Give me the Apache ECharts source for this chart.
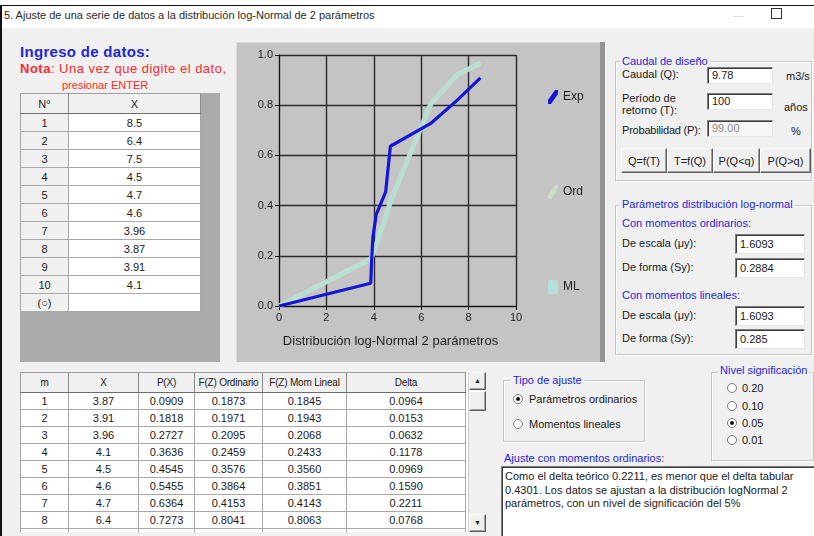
<!DOCTYPE html>
<html lang="es">
<head>
<meta charset="utf-8">
<title>Ajuste log-Normal 2 parámetros</title>
<script src="https://cdn.jsdelivr.net/npm/echarts/dist/echarts.min.js"></script>
<style>
  html, body { margin:0; padding:0; width:814px; height:536px; overflow:hidden; background:#fff;
    font-family:"Liberation Sans", Arial, sans-serif; font-size:11px; color:#1a1a1a; }
  .a { position:absolute; white-space:nowrap; line-height:13px; }
  .blue { color:#2525d8; }
  .red { color:#ff2b2b; }
  .form { position:absolute; left:2px; top:28px; width:812px; height:508px; background:#f0f0f0; }
  .tb { position:absolute; background:#fff; box-sizing:border-box; border:1px solid;
        border-color:#7e7e7e #e6e6e6 #e6e6e6 #7e7e7e; box-shadow:inset 1px 1px 0 #3c3c3c;
        padding-left:4px; white-space:nowrap; }
  .btn { position:absolute; box-sizing:border-box; border:1px solid; border-color:#fff #5e5e5e #5e5e5e #fff;
         box-shadow:inset -1px -1px 0 #a0a0a0; background:#f0f0f0; text-align:center; line-height:24px; }
  .grp { position:absolute; box-sizing:border-box; border:1px solid #c6c6c6; box-shadow:inset 1px 1px 0 #fff, 1px 1px 0 #fff; }
  .grpt { position:absolute; background:#f0f0f0; padding:0 2px; white-space:nowrap; line-height:13px; }
  table.g { position:absolute; border-collapse:collapse; table-layout:fixed; background:#fff; }
  table.g td { border:1px solid #a8a8a8; text-align:center; padding:0; overflow:hidden; white-space:nowrap; }
  table.g tr.h td { background:#f0f0f0; border-color:#a0a0a0 #8c8c8c #6c6c6c #a0a0a0; }
  #tOut tr.h td { font-size:10px; letter-spacing:-0.2px; }
  .radio { position:absolute; width:10px; height:10px; border-radius:50%; box-sizing:border-box;
           border:1px solid #7a7a7a; background:#fff; }
  .radio.on::after { content:""; position:absolute; left:2px; top:2px; width:4px; height:4px; border-radius:50%; background:#111; }
</style>
</head>
<body>
<!-- window frame and title bar -->
<div class="a" style="left:0;top:5px;width:814px;height:1px;background:#111;"></div>
<div class="a" style="left:0;top:5px;width:2px;height:531px;background:#111;"></div>
<div class="a" style="left:4px;top:9px;color:#2a2a2a;">5. Ajuste de una serie de datos a la distribución log-Normal de 2 parámetros</div>
<div class="a" style="left:733px;top:9px;color:#d8d8d8;">—</div>
<div class="a" style="left:771px;top:8px;width:9px;height:9px;border:1px solid #333;"></div>

<div class="form"></div>

<!-- data entry -->
<div class="a blue" style="left:20px;top:44px;font-size:15px;font-weight:bold;line-height:16px;letter-spacing:0.3px;">Ingreso de datos:</div>
<div class="a red" style="left:20px;top:62px;font-size:13px;letter-spacing:0.5px;"><b>Nota</b>: Una vez que digite el dato,</div>
<div class="a red" style="left:62px;top:79px;font-size:11px;">presionar ENTER</div>
<div class="a" style="left:20px;top:93px;width:200px;height:269px;background:#ababab;"></div>
<table class="g" id="tIn" style="left:20px;top:93px;"></table>

<!-- chart panel -->
<div class="a" style="left:236px;top:42px;width:364px;height:320px;background:#c4c4c4;box-shadow:inset 1px 1px 0 #dcdcdc;"></div>
<div class="a" style="left:600px;top:42px;width:5px;height:320px;background:#959595;"></div>
<div id="chart" class="a" style="left:236px;top:42px;width:364px;height:320px;"></div>

<!-- design discharge -->
<div class="grp" style="left:615px;top:61px;width:197px;height:120px;"></div>
<div class="grpt blue" style="left:620px;top:55px;">Caudal de diseño</div>
<div class="a" style="left:622px;top:68px;">Caudal (Q):</div>
<div class="tb" style="left:707px;top:67px;width:66px;height:17px;line-height:15px;">9.78</div>
<div class="a" style="left:786px;top:70px;">m3/s</div>
<div class="a" style="left:622px;top:92px;">Período de</div>
<div class="a" style="left:622px;top:104px;">retorno (T):</div>
<div class="tb" style="left:707px;top:93px;width:66px;height:17px;line-height:15px;">100</div>
<div class="a" style="left:784px;top:101px;">años</div>
<div class="a" style="left:622px;top:124px;letter-spacing:-0.2px;">Probabilidad (P):</div>
<div class="tb" style="left:707px;top:120px;width:66px;height:17px;line-height:15px;color:#8c8c8c;background:#f6f6f6;">99.00</div>
<div class="a" style="left:791px;top:125px;">%</div>
<div id="btns"></div>

<!-- log-normal parameters -->
<div class="grp" style="left:615px;top:205px;width:197px;height:150px;"></div>
<div class="grpt blue" style="left:620px;top:198px;">Parámetros distribución log-normal</div>
<div class="a blue" style="left:622px;top:217px;">Con momentos ordinarios:</div>
<div class="a" style="left:622px;top:237px;">De escala (μy):</div>
<div class="tb" style="left:735px;top:234px;width:70px;height:20px;line-height:18px;">1.6093</div>
<div class="a" style="left:622px;top:261px;">De forma (Sy):</div>
<div class="tb" style="left:735px;top:258px;width:70px;height:20px;line-height:18px;">0.2884</div>
<div class="a blue" style="left:622px;top:289px;">Con momentos lineales:</div>
<div class="a" style="left:622px;top:309px;">De escala (μy):</div>
<div class="tb" style="left:735px;top:306px;width:70px;height:20px;line-height:18px;">1.6093</div>
<div class="a" style="left:622px;top:332px;">De forma (Sy):</div>
<div class="tb" style="left:735px;top:329px;width:70px;height:20px;line-height:18px;">0.285</div>

<!-- results grid -->
<div class="a" style="left:20px;top:372px;width:448px;height:160px;overflow:hidden;background:#fff;">
  <table class="g" id="tOut" style="left:0;top:0;"></table>
</div>
<div class="a" style="left:468px;top:372px;width:18px;height:160px;background:#f0f0f0;border-left:1px solid #d0d0d0;"></div>
<div class="btn" style="left:469px;top:372px;width:17px;height:18px;line-height:16px;font-size:7px;">▲</div>
<div class="btn" style="left:469px;top:391px;width:17px;height:20px;"></div>
<div class="btn" style="left:469px;top:514px;width:17px;height:18px;line-height:16px;font-size:7px;">▼</div>

<!-- fit type -->
<div class="grp" style="left:503px;top:380px;width:142px;height:62px;"></div>
<div class="grpt blue" style="left:511px;top:374px;">Tipo de ajuste</div>
<div class="radio on" style="left:513px;top:394px;"></div>
<div class="a" style="left:529px;top:393px;">Parámetros ordinarios</div>
<div class="radio" style="left:513px;top:419px;"></div>
<div class="a" style="left:529px;top:418px;">Momentos lineales</div>

<!-- significance level -->
<div class="grp" style="left:711px;top:372px;width:103px;height:89px;"></div>
<div class="grpt blue" style="left:718px;top:364px;">Nivel significación</div>
<div id="levels"></div>

<!-- conclusion -->
<div class="a blue" style="left:504px;top:452px;">Ajuste con momentos ordinarios:</div>
<div class="a" style="left:501px;top:466px;width:313px;height:70px;background:#fff;box-sizing:border-box;border-left:1px solid #7e7e7e;border-top:1px solid #7e7e7e;box-shadow:inset 1px 1px 0 #3c3c3c;padding:3px 0 0 3px;line-height:13.5px;white-space:normal;">
Como el delta teórico 0.2211, es menor que el delta tabular<br>0.4301. Los datos se ajustan a la distribución logNormal 2<br>parámetros, con un nivel de significación del 5%
</div>

<script>
// ---- input data (as typed into the entry grid) ----
const inputIdx = [1, 2, 3, 4, 5, 6, 7, 8, 9, 10];
const inputX   = [8.5, 6.4, 7.5, 4.5, 4.7, 4.6, 3.96, 3.87, 3.91, 4.1];

// ---- results: sorted sample, empirical and fitted probabilities ----
const rankM   = [1, 2, 3, 4, 5, 6, 7, 8, 9, 10];
const sortedX = [3.87, 3.91, 3.96, 4.1, 4.5, 4.6, 4.7, 6.4, 7.5, 8.5];
const probExp = [0.0909, 0.1818, 0.2727, 0.3636, 0.4545, 0.5455, 0.6364, 0.7273, 0.8182, 0.9091];
const probOrd = [0.1873, 0.1971, 0.2095, 0.2459, 0.3576, 0.3864, 0.4153, 0.8041, 0.9200, 0.9671];
const probML  = [0.1845, 0.1943, 0.2068, 0.2433, 0.3560, 0.3851, 0.4143, 0.8063, 0.9226, 0.9687];
const deltas  = [0.0964, 0.0153, 0.0632, 0.1178, 0.0969, 0.1590, 0.2211, 0.0768, 0.1018, 0.0580];

// ---- axis ticks ----
const xTicks = [0, 2, 4, 6, 8, 10];
const yTicks = [0.0, 0.2, 0.4, 0.6, 0.8, 1.0];

// ---- other form labels ----
const buttonLabels = ['Q=f(T)', 'T=f(Q)', 'P(Q<q)', 'P(Q>q)'];
const levelLabels  = ['0.20', '0.10', '0.05', '0.01'];
const levelChecked = 2;
const outHeaders   = ['m', 'X', 'P(X)', 'F(Z) Ordinario', 'F(Z) Mom Lineal', 'Delta'];

const esc = s => String(s).replace(/&/g, '&amp;').replace(/</g, '&lt;').replace(/>/g, '&gt;');

// entry grid
(function () {
  const t = document.getElementById('tIn');
  const widths = [48, 132];
  let html = '<colgroup>' + widths.map(w => '<col style="width:' + w + 'px">').join('') + '</colgroup>';
  html += '<tr class="h" style="height:20px"><td>N°</td><td>X</td></tr>';
  inputIdx.forEach((n, i) => {
    html += '<tr style="height:18px"><td style="background:#f0f0f0">' + n + '</td><td>' + inputX[i] + '</td></tr>';
  });
  html += '<tr style="height:18px"><td style="background:#f0f0f0">(○)</td><td></td></tr>';
  t.innerHTML = html;
  t.style.width = widths.reduce((a, b) => a + b, 0) + 'px';
})();

// results grid
(function () {
  const t = document.getElementById('tOut');
  const widths = [48, 70, 56, 68, 84, 119];
  let html = '<colgroup>' + widths.map(w => '<col style="width:' + w + 'px">').join('') + '</colgroup>';
  html += '<tr class="h" style="height:20px">' + outHeaders.map(h => '<td>' + esc(h) + '</td>').join('') + '</tr>';
  rankM.forEach((m, i) => {
    html += '<tr style="height:17px"><td>' + m + '</td><td>' + sortedX[i] + '</td><td>' +
      probExp[i].toFixed(4) + '</td><td>' + probOrd[i].toFixed(4) + '</td><td>' +
      probML[i].toFixed(4) + '</td><td>' + deltas[i].toFixed(4) + '</td></tr>';
  });
  t.innerHTML = html;
  t.style.width = widths.reduce((a, b) => a + b, 0) + 'px';
})();

// command buttons
(function () {
  const lefts = [621, 667, 713, 760], widths = [46, 46, 47, 51];
  document.getElementById('btns').innerHTML = buttonLabels.map((b, i) =>
    '<div class="btn" style="left:' + lefts[i] + 'px;top:148px;width:' + widths[i] + 'px;height:25px;">' + esc(b) + '</div>').join('');
})();

// significance radio group
(function () {
  const tops = [382, 400, 417, 434];
  document.getElementById('levels').innerHTML = levelLabels.map((l, i) =>
    '<div class="radio' + (i === levelChecked ? ' on' : '') + '" style="left:727px;top:' + (tops[i] + 1) + 'px;"></div>' +
    '<div class="a" style="left:742px;top:' + tops[i] + 'px;">' + l + '</div>').join('');
})();

// chart: empirical vs fitted CDFs
const origin = [0, 0];
const toPairs = (xs, ys) => [origin].concat(xs.map((x, i) => [x, ys[i]]));
const slash = 'path://M0,14 L3,14 L10,4 L10,0 L7,0 L0,10 Z';
const font = '"Liberation Sans", Arial, sans-serif';

const chart = echarts.init(document.getElementById('chart'), null, { renderer: 'canvas' });
chart.setOption({
  animation: false,
  backgroundColor: 'transparent',
  textStyle: { fontFamily: font },
  grid: { left: 43, top: 13, width: 237, height: 251 },
  xAxis: {
    type: 'value', min: xTicks[0], max: xTicks[xTicks.length - 1], interval: xTicks[1] - xTicks[0],
    axisLine: { lineStyle: { color: '#111', width: 1 } },
    axisTick: { show: true, length: 4, lineStyle: { color: '#111' } },
    axisLabel: { color: '#1e1e1e', fontSize: 11, margin: 6 },
    splitLine: { show: true, lineStyle: { color: '#2a2a2a', width: 1.4 } },
    name: 'Distribución log-Normal 2 parámetros', nameLocation: 'middle', nameGap: 29,
    nameTextStyle: { color: '#1e1e1e', fontSize: 13, padding: [0, 14, 0, 0] }
  },
  yAxis: {
    type: 'value', min: yTicks[0], max: yTicks[yTicks.length - 1], interval: yTicks[1] - yTicks[0],
    axisLine: { show: true, lineStyle: { color: '#111', width: 1 } },
    axisTick: { show: true, length: 4, lineStyle: { color: '#111' } },
    axisLabel: { color: '#1e1e1e', fontSize: 11, margin: 6, formatter: v => v.toFixed(1) },
    splitLine: { show: true, lineStyle: { color: '#2a2a2a', width: 1.4 } }
  },
  legend: {
    orient: 'vertical', left: 307, top: 43, itemGap: 81, itemWidth: 10, itemHeight: 14,
    selectedMode: false,
    textStyle: { color: '#1e1e1e', fontSize: 12, fontFamily: font },
    data: [
      { name: 'Exp', icon: slash },
      { name: 'Ord', icon: slash },
      { name: 'ML', icon: 'roundRect' }
    ]
  },
  series: [
    { name: 'Ord', type: 'line', data: toPairs(sortedX, probOrd), showSymbol: false,
      lineStyle: { color: '#cadfc6', width: 5, opacity: 0.85 }, itemStyle: { color: '#cadfc6' } },
    { name: 'ML', type: 'line', data: toPairs(sortedX, probML), showSymbol: false,
      lineStyle: { color: '#b3e1d8', width: 4, opacity: 0.85 }, itemStyle: { color: '#b3e1d8' } },
    { name: 'Exp', type: 'line', data: toPairs(sortedX, probExp), showSymbol: false,
      lineStyle: { color: '#1515d8', width: 3.2 }, itemStyle: { color: '#1515d8' } }
  ]
});
</script>
</body>
</html>
